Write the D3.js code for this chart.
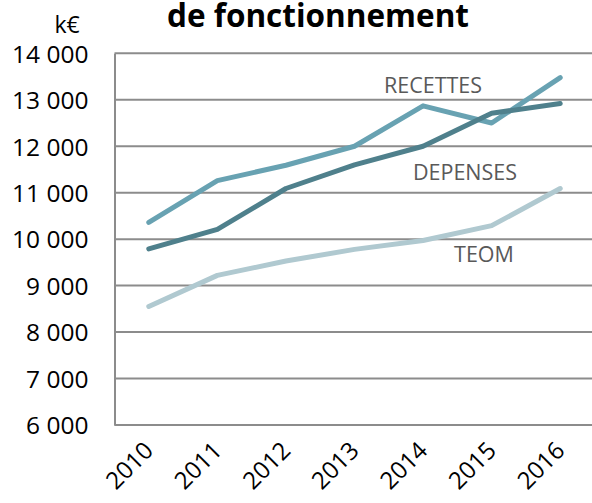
<!DOCTYPE html>
<html>
<head>
<meta charset="utf-8">
<script src="https://cdn.jsdelivr.net/npm/d3@7"></script>
<style>
  body { margin: 0; background: #fff; }
  svg { display: block; font-family: "Open Sans", sans-serif; }
</style>
</head>
<body>
<div id="chart"></div>
<script>
// data (k€)
const years = ["2010", "2011", "2012", "2013", "2014", "2015", "2016"];
const recettes = [10360, 11260, 11590, 12000, 12870, 12500, 13475];
const depenses = [9790, 10210, 11090, 11600, 12000, 12710, 12920];
const teom = [8550, 9220, 9530, 9780, 9970, 10290, 11090];
const yTicks = [6000, 7000, 8000, 9000, 10000, 11000, 12000, 13000, 14000];

const series = [
  { name: "RECETTES", values: recettes, color: "#68a2b2", labelAt: [433, 85] },
  { name: "DEPENSES", values: depenses, color: "#4f808c", labelAt: [465, 172] },
  { name: "TEOM", values: teom, color: "#b0c9d0", labelAt: [484, 254] },
];

const width = 592;
const height = 503;
const plotLeft = 114.5;
const plotRight = 594.5;
const plotTop = 53.3;
const plotBottom = 425;

const svg = d3
  .select("#chart")
  .append("svg")
  .attr("width", width)
  .attr("height", height);

// scales
const xScale = d3.scaleBand().domain(years).range([plotLeft, plotRight]);
const yScale = d3.scaleLinear().domain([6000, 14000]).range([plotBottom, plotTop]);

// title (first line is cut off in the original)
svg
  .append("text")
  .attr("x", 318)
  .attr("y", 27)
  .attr("text-anchor", "middle")
  .attr("font-weight", "bold")
  .attr("font-size", 31.5)
  .attr("fill", "#000")
  .text("de fonctionnement");

svg
  .append("text")
  .attr("x", 67)
  .attr("y", 33)
  .attr("text-anchor", "middle")
  .attr("font-size", 23)
  .attr("fill", "#000")
  .text("k€");

// gridlines
svg
  .append("g")
  .selectAll("line")
  .data(yTicks)
  .enter()
  .append("line")
  .attr("x1", plotLeft)
  .attr("x2", plotRight)
  .attr("y1", (d) => yScale(d))
  .attr("y2", (d) => yScale(d))
  .attr("stroke", "#8c8c8c")
  .attr("stroke-width", 2);

// y axis
const yAxis = d3
  .axisLeft(yScale)
  .tickValues(yTicks)
  .tickSize(0)
  .tickPadding(26)
  .tickFormat((d) => d3.format(",")(d).replace(",", " "));
const yG = svg.append("g").attr("transform", `translate(${plotLeft},0)`).call(yAxis);
yG.select(".domain").attr("stroke", "#8c8c8c").attr("stroke-width", 2);
yG.selectAll("text")
  .attr("font-size", 24.5)
  .attr("font-family", "Open Sans, sans-serif")
  .attr("fill", "#000")
  .attr("dy", "0.36em");

// x axis
const xAxis = d3.axisBottom(xScale).tickSize(0).tickPadding(0);
const xG = svg.append("g").attr("transform", `translate(0,${plotBottom})`).call(xAxis);
xG.select(".domain").remove();
xG.selectAll("text")
  .attr("font-size", 24)
  .attr("font-family", "Open Sans, sans-serif")
  .attr("fill", "#000")
  .attr("text-anchor", "end")
  .attr("dy", 0)
  .attr("transform", "translate(6,27) rotate(-45)");

// lines
const line = d3
  .line()
  .x((d, i) => xScale(years[i]) + xScale.bandwidth() / 2)
  .y((d) => yScale(d));

series.forEach((s) => {
  svg
    .append("path")
    .datum(s.values)
    .attr("d", line)
    .attr("fill", "none")
    .attr("stroke", s.color)
    .attr("stroke-width", 5)
    .attr("stroke-linejoin", "round")
    .attr("stroke-linecap", "round");
});

// series labels
series.forEach((s) => {
  svg
    .append("text")
    .attr("x", s.labelAt[0])
    .attr("y", s.labelAt[1])
    .attr("text-anchor", "middle")
    .attr("dy", "0.36em")
    .attr("font-size", 21.5)
    .attr("fill", "#595959")
    .text(s.name);
});
</script>
</body>
</html>
